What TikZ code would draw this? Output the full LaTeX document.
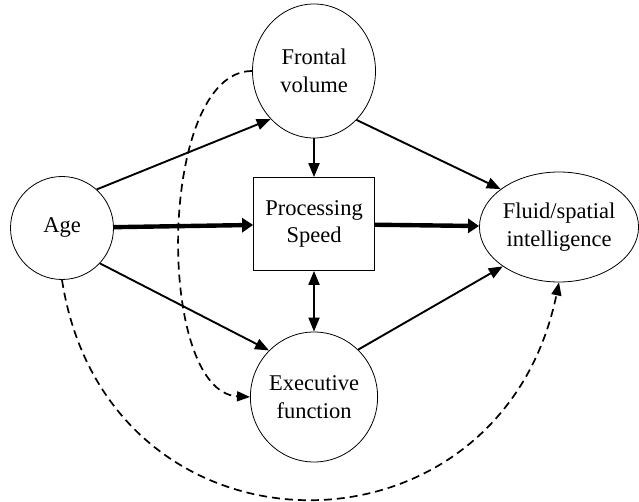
\documentclass[tikz,border=0pt]{standalone}
\usepackage{fontspec}
\setmainfont{Liberation Serif}
\usetikzlibrary{shapes.geometric,arrows.meta}
\begin{document}
\begin{tikzpicture}[x=1pt,y=-1pt,
  every node/.style={font=\fontsize{22.5}{27.5}\selectfont, align=center, inner sep=0pt},
  circ/.style={draw, ellipse, line width=0.8pt},
  boxnode/.style={draw, rectangle, line width=0.8pt, minimum width=121pt, minimum height=93pt},
  arr/.style={line width=1.9pt, -{Triangle[length=14pt,width=11pt]}},
  thickarr/.style={line width=4.4pt, -{Triangle[length=11pt,width=14pt]}},
  dasharr/.style={line width=1.7pt, dash pattern=on 8pt off 5pt, -{Triangle[length=13pt,width=10pt]}}]
\useasboundingbox (0,0) rectangle (639,502);
\node[circ, minimum width=103pt, minimum height=103pt] (age) at (62,228) {Age};
\node[circ, minimum width=123pt, minimum height=134pt] (fv) at (314,71) {Frontal\\volume};
\node[boxnode] (ps) at (314,224) {Processing\\Speed};
\node[circ, minimum width=120pt, minimum height=130pt] (ex) at (314,397) {Executive\\function};
\node[circ, minimum width=158pt, minimum height=110pt] (fl) at (559,227) {Fluid/spatial\\intelligence};
% solid arrows
\draw[arr] (age.48) -- (fv.228);
\draw[arr] (age.-43) -- (ex.134);
\draw[arr] (fv.-49) -- (fl.147);
\draw[arr] (ex.47) -- (fl.215);
\draw[arr] (fv) -- (ps);
\draw[line width=1.9pt, {Triangle[length=14pt,width=11pt]}-{Triangle[length=14pt,width=11pt]}] (ps) -- (ex);
\draw[thickarr] (age) -- (ps);
\draw[thickarr] (ps) -- (fl);
% dashed arrows
\draw[dasharr] (fv.west) .. controls +(-95,0) and +(-95,-5) .. (ex.west);
\draw[dasharr] (age.south) .. controls +(45,290) and +(-60,290) .. (fl.south);
\end{tikzpicture}
\end{document}
